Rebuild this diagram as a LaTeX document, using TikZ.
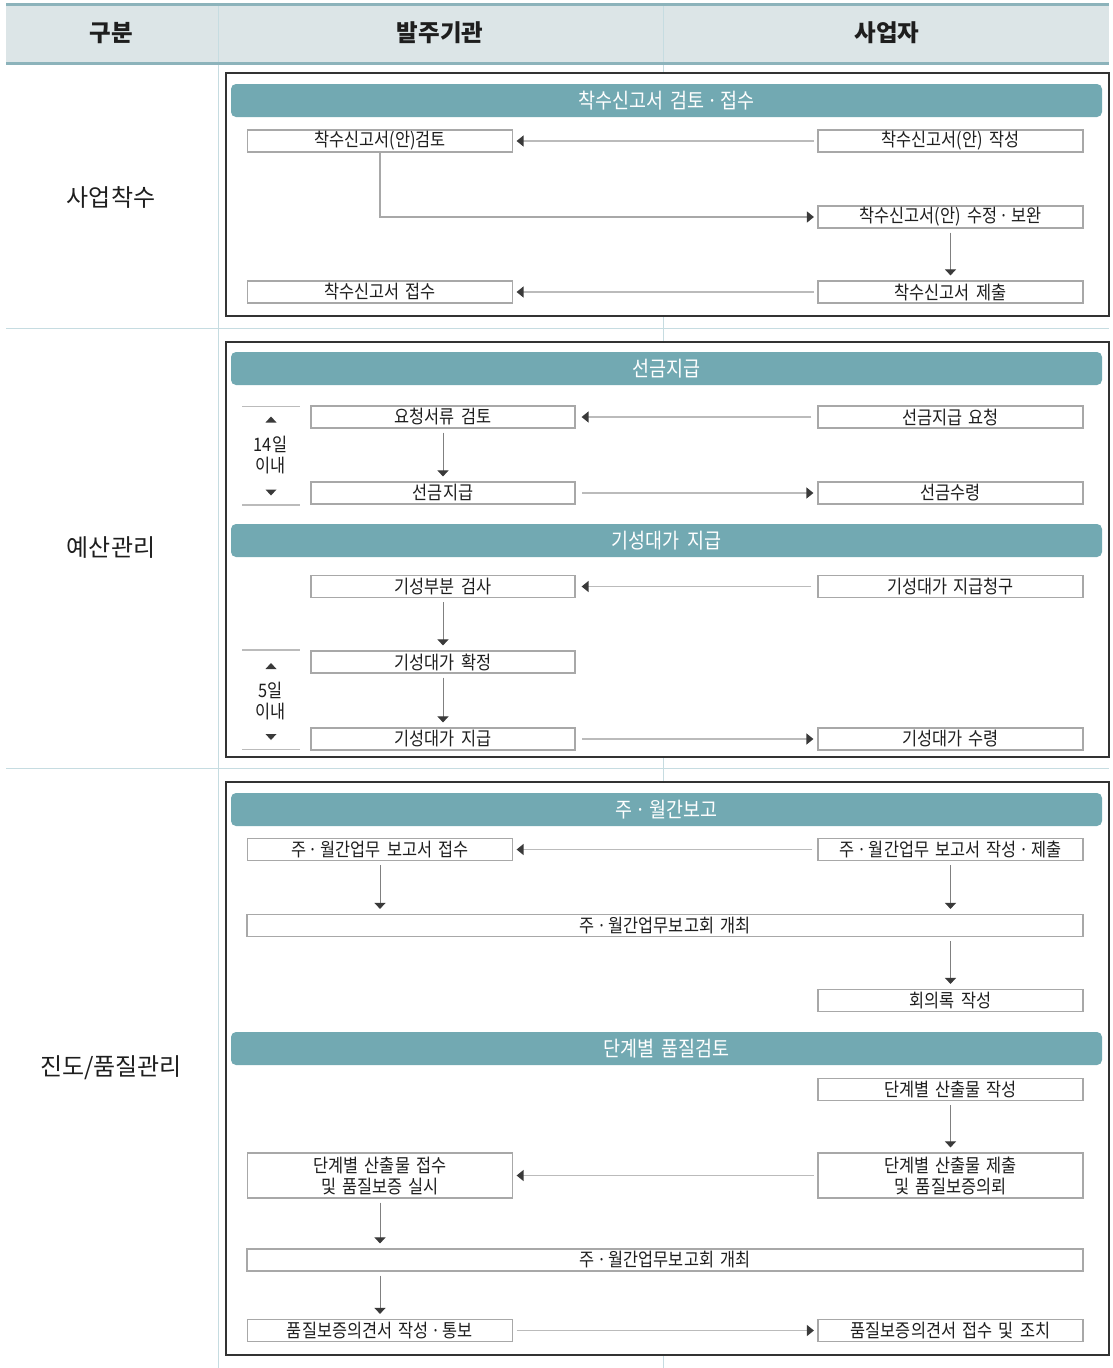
\documentclass[tikz,border=0pt]{standalone}
\usepackage{fontspec}
\setmainfont{Noto Sans CJK KR}
\newfontfamily\krcond[FakeStretch=0.88,WordSpace=1.7]{Noto Sans CJK KR}
\usetikzlibrary{arrows.meta}
\newcommand{\dt}{\kern-0.2em·\kern-0.2em}
\definecolor{hdrfill}{HTML}{DCE5E7}
\definecolor{hdrline}{HTML}{8CB3BB}
\definecolor{gridline}{HTML}{C6DCE1}
\definecolor{barteal}{HTML}{72A9B2}
\definecolor{framedark}{HTML}{333333}
\definecolor{boxgray}{HTML}{A8A8A8}
\definecolor{hline}{HTML}{BBBBBB}
\definecolor{vline}{HTML}{808080}
\definecolor{tipdark}{HTML}{3A3A3A}
\definecolor{txt}{HTML}{1E1E1E}
\newcommand{\boxfont}{\krcond\fontsize{18.6}{21}\selectfont}
\newcommand{\barfont}{\krcond\fontsize{21}{24}\selectfont}
\newcommand{\hdrfont}{\fontsize{23.5}{27}\selectfont\bfseries}
\newcommand{\lblfont}{\fontsize{24}{28}\selectfont}
\tikzset{
  box/.style={draw=boxgray, line width=1.2pt, fill=white, minimum height=22pt,
    inner sep=0pt, font=\boxfont, text=txt, align=center},
  lw/.style={minimum width=265pt},
  sw/.style={minimum width=264pt},
  ww/.style={minimum width=836pt},
  tall/.style={minimum height=45pt},
  frame/.style={draw=framedark, line width=1.3pt, fill=white},
  bar/.style={fill=barteal, rounded corners=5pt, minimum width=871pt, minimum height=33pt,
    inner sep=0pt, font=\barfont, text=white},
  hdr/.style={font=\hdrfont, text=txt},
  lbl/.style={font=\lblfont, text=txt},
  hflow/.style={draw=hline, line width=1.3pt, -{Triangle[length=7pt,width=11pt,color=tipdark]},
    shorten <=3.5pt, shorten >=3.5pt},
  lflow/.style={draw=boxgray, line width=1.2pt, -{Triangle[length=7pt,width=11pt,color=tipdark]},
    shorten >=3.5pt},
  vflow/.style={draw=vline, line width=0.9pt, -{Triangle[length=6pt,width=11pt,color=tipdark]},
    shorten <=4pt, shorten >=5pt},
  daytext/.style={font=\boxfont, text=txt, align=center, inner sep=0pt},
  markline/.style={draw=hline, line width=1.2pt},
}
\begin{document}
\begin{tikzpicture}[x=1pt,y=-1pt]
\useasboundingbox (0,0) rectangle (1113,1368);
% header
\fill[hdrfill] (6,4) rectangle (1109,64);
\draw[gridline, line width=1pt] (218,4) -- (218,1368);
\draw[gridline, line width=1pt] (663,4) -- (663,1368);
\draw[hdrline, line width=2.5pt] (6,4.5) -- (1109,4.5);
\draw[hdrline, line width=3pt] (6,63.5) -- (1109,63.5);
\draw[gridline, line width=1pt] (6,328) -- (1109,328);
\draw[gridline, line width=1pt] (6,768) -- (1109,768);
\node[hdr] (h1) at (111,33) {구분};
\node[hdr] (h2) at (440,33) {발주기관};
\node[hdr] (h3) at (887,33) {사업자};
\node[lbl] (l1) at (111,197) {사업착수};
\node[lbl] (l2) at (111,548) {예산관리};
\node[lbl] (l3) at (111,1068) {진도/품질관리};
% frames
\draw[frame] (226,73) rectangle (1109,316);
\draw[frame] (226,342) rectangle (1109,757);
\draw[frame] (226,782) rectangle (1109,1355);
% ---------- section 1
\node[bar] (bar1) at (666.5,100.5) {착수신고서 검토 \dt{} 접수};
\node[box,lw] (a1) at (380,141) {착수신고서(안)검토};
\node[box,lw] (b1) at (950.5,141) {착수신고서(안) 작성};
\node[box,lw] (b2) at (950.5,217) {착수신고서(안) 수정 \dt{} 보완};
\node[box,lw] (b3) at (950.5,292) {착수신고서 제출};
\node[box,lw] (a3) at (380,292) {착수신고서 접수};
\draw[hflow] (b1.west) -- (a1.east);
\draw[lflow] (a1.south) |- (b2.west);
\draw[vflow] (b2.south) -- (b3.north);
\draw[hflow] (b3.west) -- (a3.east);
% ---------- section 2
\node[bar] (bar2) at (666.5,368.5) {선금지급};
\node[box,sw] (r1) at (443,417) {요청서류 검토};
\node[box,lw] (s1) at (950.5,417) {선금지급 요청};
\node[box,sw] (r2) at (443,493) {선금지급};
\node[box,lw] (s2) at (950.5,493) {선금수령};
\draw[hflow, shorten <=6pt, shorten >=6pt] (s1.west) -- (r1.east);
\draw[vflow] (r1.south) -- (r2.north);
\draw[hflow, shorten <=6.5pt, shorten >=4pt] (r2.east) -- (s2.west);
\draw[markline] (242,406.5) -- (300,406.5);
\draw[markline] (242,505) -- (300,505);
\fill[tipdark] (265.5,422.5) -- (276.5,422.5) -- (271,416.5) -- cycle;
\fill[tipdark] (265.5,489.5) -- (276.5,489.5) -- (271,495.5) -- cycle;
\node[daytext] (t1) at (270.5,455) {14일\\이내};
\node[bar] (bar3) at (666.5,540.5) {기성대가 지급};
\node[box,sw] (r3) at (443,586.5) {기성부분 검사};
\node[box,lw] (s3) at (950.5,586.5) {기성대가 지급청구};
\node[box,sw] (r4) at (443,662) {기성대가 확정};
\node[box,sw] (r5) at (443,739) {기성대가 지급};
\node[box,lw] (s5) at (950.5,739) {기성대가 수령};
\draw[hflow, shorten <=6pt, shorten >=6pt] (s3.west) -- (r3.east);
\draw[vflow] (r3.south) -- (r4.north);
\draw[vflow] (r4.south) -- (r5.north);
\draw[hflow, shorten <=6.5pt, shorten >=4pt] (r5.east) -- (s5.west);
\draw[markline] (242,650) -- (300,650);
\draw[markline] (242,749.5) -- (300,749.5);
\fill[tipdark] (265.5,669) -- (276.5,669) -- (271,663) -- cycle;
\fill[tipdark] (265.5,734) -- (276.5,734) -- (271,740) -- cycle;
\node[daytext] (t2) at (270.5,701.5) {5일\\이내};
% ---------- section 3
\node[bar] (bar4) at (666.5,809.5) {주 \dt{} 월간보고};
\node[box,lw] (w1) at (380,849.5) {주 \dt{} 월간업무 보고서 접수};
\node[box,lw] (w2) at (950.5,849.5) {주 \dt{} 월간업무 보고서 작성 \dt{} 제출};
\node[box,ww] (w3) at (665,925.5) {주 \dt{} 월간업무보고회 개최};
\node[box,lw] (w4) at (950.5,1000.5) {회의록 작성};
\draw[hflow, shorten <=5pt] (w2.west) -- (w1.east);
\draw[vflow] (w1.south) -- (w1.south |- w3.north);
\draw[vflow] (w2.south) -- (w2.south |- w3.north);
\draw[vflow] (w4.north |- w3.south) -- (w4.north);
\node[bar] (bar5) at (666.5,1048.5) {단계별 품질검토};
\node[box,lw] (q1) at (950.5,1089.5) {단계별 산출물 작성};
\node[box,lw,tall] (q2) at (950.5,1175.5) {단계별 산출물 제출\\및 품질보증의뢰};
\node[box,lw,tall] (q3) at (380,1175.5) {단계별 산출물 접수\\및 품질보증 실시};
\node[box,ww] (q4) at (665,1260) {주 \dt{} 월간업무보고회 개최};
\node[box,lw] (q5) at (380,1330.5) {품질보증의견서 작성 \dt{} 통보};
\node[box,lw] (q6) at (950.5,1330.5) {품질보증의견서 접수 및 조치};
\draw[vflow] (q1.south) -- (q2.north);
\draw[hflow] (q2.west) -- (q3.east);
\draw[vflow] (q3.south) -- (q3.south |- q4.north);
\draw[vflow] (q5.north |- q4.south) -- (q5.north);
\draw[hflow] (q5.east) -- (q6.west);
\end{tikzpicture}
\end{document}
